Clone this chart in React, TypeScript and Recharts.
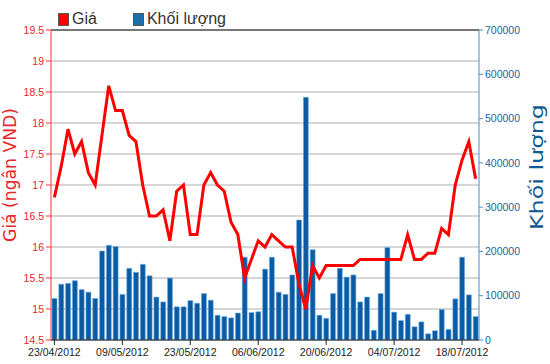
import { ComposedChart, Bar, Line, XAxis, YAxis, CartesianGrid, ReferenceLine } from 'recharts';

document.body.style.margin = '0';

const dates = [
  '23/04/2012', '24/04/2012', '25/04/2012', '26/04/2012', '27/04/2012',
  '02/05/2012', '03/05/2012', '04/05/2012', '07/05/2012', '08/05/2012',
  '09/05/2012', '10/05/2012', '11/05/2012', '14/05/2012', '15/05/2012',
  '16/05/2012', '17/05/2012', '18/05/2012', '21/05/2012', '22/05/2012',
  '23/05/2012', '24/05/2012', '25/05/2012', '28/05/2012', '29/05/2012',
  '30/05/2012', '31/05/2012', '01/06/2012', '04/06/2012', '05/06/2012',
  '06/06/2012', '07/06/2012', '08/06/2012', '11/06/2012', '12/06/2012',
  '13/06/2012', '14/06/2012', '15/06/2012', '18/06/2012', '19/06/2012',
  '20/06/2012', '21/06/2012', '22/06/2012', '25/06/2012', '26/06/2012',
  '27/06/2012', '28/06/2012', '29/06/2012', '02/07/2012', '03/07/2012',
  '04/07/2012', '05/07/2012', '06/07/2012', '09/07/2012', '10/07/2012',
  '11/07/2012', '12/07/2012', '13/07/2012', '16/07/2012', '17/07/2012',
  '18/07/2012', '19/07/2012', '20/07/2012',
];

const prices = [
  16.8, 17.3, 17.9, 17.5, 17.7, 17.2, 17.0, 17.8, 18.6, 18.2,
  18.2, 17.8, 17.7, 17.0, 16.5, 16.5, 16.6, 16.1, 16.9, 17.0,
  16.2, 16.2, 17.0, 17.2, 17.0, 16.9, 16.4, 16.2, 15.5, 15.8,
  16.1, 16.0, 16.2, 16.1, 16.0, 16.0, 15.4, 15.0, 15.7, 15.5,
  15.7, 15.7, 15.7, 15.7, 15.7, 15.8, 15.8, 15.8, 15.8, 15.8,
  15.8, 15.8, 16.2, 15.8, 15.8, 15.9, 15.9, 16.3, 16.2, 17.0,
  17.4, 17.7, 17.1,
];

const volumes = [
  94000, 126000, 128000, 134000, 114000, 108000, 94000, 201000, 214000, 211000,
  103000, 162000, 153000, 171000, 145000, 97000, 86000, 140000, 75000, 75000,
  89000, 83000, 105000, 90000, 56000, 53000, 50000, 61000, 187000, 62000,
  64000, 160000, 187000, 108000, 103000, 147000, 271000, 548000, 204000, 56000,
  49000, 105000, 162000, 142000, 147000, 86000, 97000, 22000, 105000, 209000,
  63000, 44000, 58000, 30000, 41000, 14000, 21000, 69000, 24000, 93000,
  187000, 102000, 53000,
];

const priceTicks = [14.5, 15, 15.5, 16, 16.5, 17, 17.5, 18, 18.5, 19, 19.5];
const volumeTicks = [0, 100000, 200000, 300000, 400000, 500000, 600000, 700000];

const data = dates.map((date, i) => ({ date, price: prices[i], volume: volumes[i] }));

const RED = '#ff0000';
const BLUE = '#0a5ba3';

export default function App() {
  return (
    <div style={{ position: 'relative', width: 550, height: 364, background: '#fff', fontFamily: '"Liberation Sans", Arial, sans-serif' }}>
      {/* legend */}
      <div style={{ position: 'absolute', left: 58, top: 10, display: 'flex', alignItems: 'center', fontSize: 16, color: '#333' }}>
        <span style={{ width: 9, height: 11, background: RED, border: '1px solid #555', marginRight: 3 }} />
        <span style={{ marginRight: 36 }}>Giá</span>
        <span style={{ width: 9, height: 11, background: '#1a6fb0', border: '1px solid #555', marginRight: 3 }} />
        <span>Khối lượng</span>
      </div>
      <ComposedChart width={550} height={364} data={data} margin={{ top: 30, right: 0, bottom: 0, left: 0 }}>
        <CartesianGrid yAxisId="left" vertical={false} stroke="#c8c8c8" strokeWidth={1.5} />
        <XAxis
          dataKey="date"
          interval={9}
          height={24}
          tickSize={5}
          tickMargin={4}
          stroke="#222"
          tick={{ fontSize: 10.5, fill: '#222' }}
        />
        <YAxis
          yAxisId="left"
          width={51}
          domain={[14.5, 19.5]}
          ticks={priceTicks}
          stroke="#ff3030"
          tickSize={5}
          tickMargin={2}
          tick={{ fontSize: 10.5, fill: '#e8252b' }}
        />
        <YAxis
          yAxisId="right"
          orientation="right"
          width={71}
          domain={[0, 700000]}
          ticks={volumeTicks}
          stroke="#4a8ec6"
          tickSize={4}
          tickMargin={2}
          tick={{ fontSize: 10.5, fill: '#22639a' }}
        />
        <ReferenceLine yAxisId="left" y={19.5} stroke="#777" strokeWidth={2} />
        <Bar yAxisId="right" dataKey="volume" fill={BLUE} stroke="#79b6e6" strokeWidth={0.6} barSize={5} isAnimationActive={false} />
        <Line yAxisId="left" dataKey="price" type="linear" stroke={RED} strokeWidth={3} dot={false} isAnimationActive={false} />
        <text x={10} y={175} transform="rotate(-90 10 175)" textAnchor="middle" dominantBaseline="central"
          fill="#e8252b" fontSize={17} fontFamily='"DejaVu Sans", sans-serif' textLength={134} lengthAdjust="spacingAndGlyphs">
          Giá (ngân VND)
        </text>
        <text x={537} y={167} transform="rotate(-90 537 167)" textAnchor="middle" dominantBaseline="central"
          fill="#115b93" fontSize={17} fontFamily='"DejaVu Sans", sans-serif' textLength={126} lengthAdjust="spacingAndGlyphs">
          Khối lượng
        </text>
      </ComposedChart>
    </div>
  );
}
